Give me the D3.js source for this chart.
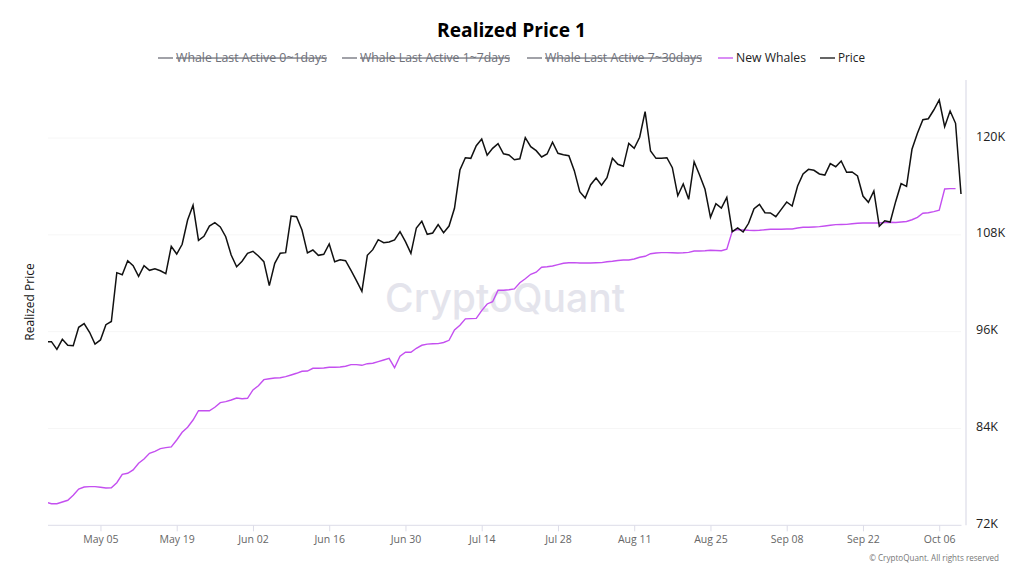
<!DOCTYPE html>
<html>
<head>
<meta charset="utf-8">
<script src="https://cdn.jsdelivr.net/npm/d3@7"></script>
<style>
  html, body { margin: 0; padding: 0; background: #fff; }
  svg { display: block; }
  text { font-family: "Open Sans", "Noto Sans", sans-serif; }
</style>
</head>
<body>
<svg id="chart" width="1024" height="576"></svg>
<script>
// values in USD thousands, one per day from the first date
const firstDate = "2025-04-25";

const price = [
  94.76, 94.76, 93.81, 95.05, 94.31, 94.26, 96.54, 96.99, 95.92, 94.47,
  94.97, 96.86, 97.26, 103.31, 103.06, 104.79, 104.17, 102.86, 104.17, 103.60,
  103.80, 103.55, 103.18, 106.58, 105.62, 106.83, 109.84, 111.66, 107.32, 107.82,
  109.09, 109.50, 108.97, 107.77, 105.50, 104.05, 104.72, 105.71, 105.96, 105.38,
  104.67, 101.70, 104.47, 105.71, 105.79, 110.33, 110.25, 108.60, 105.75, 106.12,
  105.46, 105.59, 106.86, 104.67, 104.92, 104.79, 103.58, 102.32, 101.00, 105.46,
  106.16, 107.40, 107.02, 107.11, 107.36, 108.39, 107.15, 105.71, 108.85, 109.68,
  108.07, 108.23, 109.26, 108.26, 109.09, 111.29, 116.03, 117.56, 117.48, 119.05,
  119.88, 117.86, 118.72, 119.29, 118.05, 117.89, 117.31, 117.43, 120.04, 118.92,
  118.43, 117.65, 118.02, 119.47, 118.10, 117.93, 117.81, 115.95, 113.34, 112.56,
  114.21, 115.04, 114.14, 115.08, 117.48, 116.74, 116.49, 119.34, 118.72, 120.09,
  123.26, 118.39, 117.48, 117.48, 117.56, 116.32, 112.85, 114.30, 112.40, 117.06,
  115.41, 113.64, 110.17, 111.86, 111.32, 112.65, 108.39, 108.85, 108.35, 109.43,
  111.24, 111.78, 110.74, 110.71, 110.25, 111.16, 112.07, 111.57, 114.05, 115.54,
  116.12, 116.00, 115.54, 115.41, 116.82, 116.44, 117.15, 115.75, 115.79, 115.29,
  112.81, 112.03, 113.43, 109.06, 109.75, 109.59, 112.11, 114.34, 114.01, 118.60,
  120.58, 122.27, 122.39, 123.47, 124.71, 121.40, 123.35, 121.82, 113.06
];

const newWhales = [
  74.85, 74.68, 74.68, 74.89, 75.10, 75.72, 76.50, 76.75, 76.79, 76.79,
  76.71, 76.62, 76.66, 77.28, 78.32, 78.45, 78.86, 79.69, 80.22, 80.93,
  81.17, 81.50, 81.62, 81.71, 82.57, 83.53, 84.15, 85.05, 86.20, 86.20,
  86.20, 86.63, 87.20, 87.32, 87.53, 87.78, 87.69, 87.74, 88.77, 89.30,
  90.05, 90.17, 90.26, 90.29, 90.42, 90.63, 90.84, 91.09, 91.12, 91.46,
  91.46, 91.50, 91.58, 91.58, 91.62, 91.71, 91.91, 91.91, 91.83, 92.03,
  92.08, 92.28, 92.49, 92.70, 91.53, 92.95, 93.44, 93.44, 93.94, 94.31,
  94.45, 94.50, 94.51, 94.66, 94.93, 96.21, 96.79, 97.59, 97.61, 97.64,
  98.60, 99.43, 99.71, 101.13, 101.13, 101.20, 101.29, 102.07, 102.56, 103.11,
  103.36, 103.98, 104.05, 104.14, 104.30, 104.47, 104.53, 104.55, 104.51, 104.51,
  104.51, 104.53, 104.55, 104.67, 104.72, 104.82, 104.88, 104.88, 105.00, 105.22,
  105.34, 105.66, 105.75, 105.79, 105.79, 105.77, 105.75, 105.77, 105.83, 106.00,
  106.00, 106.03, 106.08, 106.06, 106.03, 106.21, 108.44, 108.64, 108.60, 108.56,
  108.54, 108.56, 108.62, 108.69, 108.69, 108.70, 108.72, 108.72, 108.85, 108.93,
  108.94, 108.97, 109.01, 109.09, 109.18, 109.26, 109.28, 109.30, 109.37, 109.43,
  109.47, 109.47, 109.47, 109.47, 109.53, 109.55, 109.53, 109.59, 109.65, 109.87,
  110.17, 110.67, 110.74, 110.87, 111.04, 113.68, 113.72, 113.72
];

const yTicks = [72, 84, 96, 108, 120];
const xTicks = ["2025-05-05", "2025-05-19", "2025-06-02", "2025-06-16", "2025-06-30", "2025-07-14",
  "2025-07-28", "2025-08-11", "2025-08-25", "2025-09-08", "2025-09-22", "2025-10-06"];

const legendNames = ["Whale Last Active 0~1days", "Whale Last Active 1~7days", "Whale Last Active 7~30days", "New Whales", "Price"];
const legendStarts = [158, 342, 527, 718, 820];
const legendWidths = [151, 150, 157, 70, 27];
const legendColors = ["#6e7079", "#6e7079", "#6e7079", "#c44ff0", "#111111"];
const legendOff = [true, true, true, false, false];

const axisColor = "#dcdce8";
const svg = d3.select("#chart");

const parseDay = d3.utcParse("%Y-%m-%d");
const start = parseDay(firstDate);
const dayOf = i => d3.utcDay.offset(start, i);

const x = d3.scaleUtc()
  .domain([start, dayOf(price.length - 1)])
  .range([46, 961]);

const y = d3.scaleLinear()
  .domain([72, 120])
  .range([525.3, 138]);

// first day sits just left of the plot, so it gets clipped like the original
svg.append("clipPath").attr("id", "plot")
  .append("rect").attr("x", 48).attr("y", 70).attr("width", 916).attr("height", 460);

// watermark
svg.append("text")
  .attr("x", 385).attr("y", 312)
  .attr("font-size", 39)
  .attr("font-weight", 500)
  .attr("textLength", 240)
  .attr("fill", "#e4e4ec")
  .style("font-family", "Inter, sans-serif")
  .text("CryptoQuant");

// gridlines
svg.append("g").selectAll("line")
  .data(yTicks.slice(1))
  .enter()
  .append("line")
  .attr("x1", 48).attr("x2", 961)
  .attr("y1", d => y(d)).attr("y2", d => y(d))
  .attr("stroke", "#f6f6f6");

// x axis
const xAxis = svg.append("g")
  .attr("transform", "translate(0,525.3)")
  .call(d3.axisBottom(x)
    .tickValues(xTicks.map(parseDay))
    .tickFormat(d3.utcFormat("%b %d"))
    .tickSize(6)
    .tickPadding(4));
xAxis.select(".domain").remove();
xAxis.append("line").attr("x1", 48).attr("x2", 961.5).attr("stroke", axisColor);
xAxis.selectAll(".tick line").attr("stroke", axisColor);
xAxis.selectAll(".tick text")
  .attr("fill", "#666")
  .attr("font-size", 10.5)
  .style("font-family", "'Open Sans', sans-serif");

// y axis on the right
const yAxis = svg.append("g")
  .attr("transform", "translate(966,0)")
  .call(d3.axisRight(y)
    .tickValues(yTicks)
    .tickFormat(d => d + "K")
    .tickSize(0)
    .tickPadding(10));
yAxis.select(".domain").remove();
yAxis.append("line").attr("y1", 80).attr("y2", 525.3).attr("stroke", axisColor).attr("stroke-width", 1.2);
yAxis.selectAll(".tick text")
  .attr("fill", "#222")
  .attr("font-size", 12.5)
  .attr("dy", "0.16em")
  .style("font-family", "'Open Sans', sans-serif");

// series
const line = d3.line()
  .x((d, i) => x(dayOf(i)))
  .y(d => y(d));

svg.append("path")
  .datum(newWhales)
  .attr("clip-path", "url(#plot)")
  .attr("fill", "none")
  .attr("stroke", "#c44ff0")
  .attr("stroke-width", 1.4)
  .attr("d", line);

svg.append("path")
  .datum(price)
  .attr("clip-path", "url(#plot)")
  .attr("fill", "none")
  .attr("stroke", "#111")
  .attr("stroke-width", 1.5)
  .attr("d", line);

// title
svg.append("text")
  .attr("x", 511.5).attr("y", 37)
  .attr("text-anchor", "middle")
  .attr("font-size", 19.2)
  .attr("font-weight", 700)
  .attr("fill", "#000")
  .text("Realized Price 1");

// legend
const legend = svg.append("g").selectAll("g")
  .data(legendNames)
  .enter()
  .append("g")
  .attr("transform", (d, i) => `translate(${legendStarts[i]},58)`);

legend.append("line")
  .attr("x2", 15)
  .attr("stroke", (d, i) => legendColors[i])
  .attr("stroke-width", 1.3);

legend.append("text")
  .attr("x", 18)
  .attr("dy", "0.35em")
  .attr("font-size", 12.5)
  .attr("textLength", (d, i) => legendWidths[i])
  .attr("lengthAdjust", "spacingAndGlyphs")
  .attr("fill", (d, i) => legendOff[i] ? "#6e7079" : "#222")
  .style("text-decoration", (d, i) => legendOff[i] ? "line-through" : "none")
  .text(d => d);

// y axis title
svg.append("text")
  .attr("transform", "translate(34,302) rotate(-90)")
  .attr("text-anchor", "middle")
  .attr("font-size", 12)
  .attr("fill", "#111")
  .text("Realized Price");

// copyright
svg.append("text")
  .attr("x", 999).attr("y", 561)
  .attr("text-anchor", "end")
  .attr("font-size", 8.1)
  .attr("fill", "#777")
  .text("© CryptoQuant. All rights reserved");
</script>
</body>
</html>
